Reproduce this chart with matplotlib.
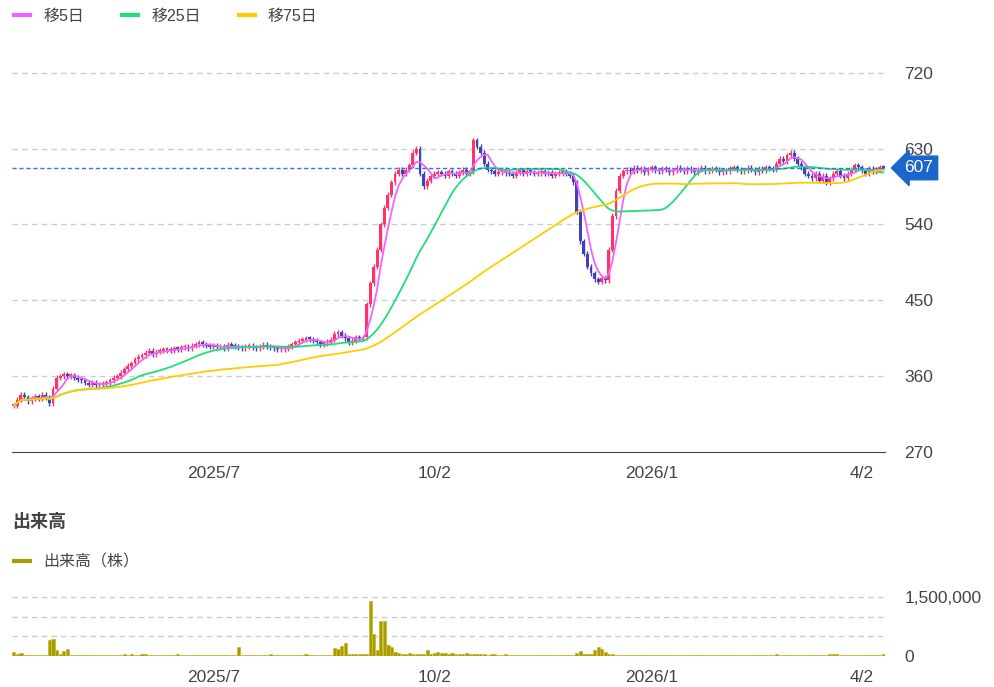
import numpy as np
import pandas as pd
import matplotlib
matplotlib.use("Agg")
from matplotlib import pyplot as plt
from matplotlib.lines import Line2D

plt.rcParams['font.family'] = ['Liberation Sans', 'Noto Sans CJK JP', 'DejaVu Sans']

# daily closes
closes = [
    325, 332, 338, 335, 330, 334, 336, 333, 338, 335, 328,
    345, 358, 360,
    362, 360, 361, 358, 356, 355, 352, 350, 352, 349, 350, 351, 353, 355,
    358, 360, 364, 368, 372, 375, 380, 383, 385, 388, 390, 386, 389, 390,
    391, 392, 390, 393, 392, 394, 395, 393, 396, 398, 400, 398, 396, 395,
    396, 394, 395, 393, 397, 396, 395, 394, 393, 395, 396, 394, 393, 395, 397,
    395, 394, 393, 392, 392, 393, 395, 398, 400, 402,
    403, 405, 404, 402, 400, 398, 399, 401, 403, 410, 412, 408, 405, 400, 402, 406, 405, 406,
    445, 470, 490, 510, 540, 560, 575, 590, 600, 605,
    600, 605, 610, 625, 630, 600, 585,
    592, 598, 600, 602, 600, 598, 603, 600, 598, 602, 605, 600, 603,
    640, 632, 625, 612,
    605, 603, 600, 602, 605, 601, 600, 598, 602, 604, 600, 603, 602, 600, 601, 603,
    600, 602, 598, 600, 601, 603, 600, 598,
    590, 555, 520, 505, 490, 482, 475, 472, 476, 474,
    510, 550, 580, 598, 603,
    605, 603, 607, 604, 606, 602, 605, 608, 604, 603, 606, 605, 602, 604, 607, 605,
    603, 606, 604, 602, 605, 607, 603, 604, 606, 605, 602, 604, 603, 606, 608, 605,
    603, 604, 607, 605, 602, 606, 604, 608, 606, 605,
    612, 618, 615, 622, 625, 618, 612, 608, 600,
    598, 595, 600, 592, 598, 590, 595, 600, 603, 598, 595, 600, 605, 610, 608, 604,
    600, 606, 603, 605, 608, 607,
]

volume = [
    100000, 40000, 80000, 30000, 25000, 30000, 20000, 25000, 20000, 30000,
    400000, 430000, 150000, 60000, 120000, 170000, 30000, 25000, 20000, 25000,
    20000, 22000, 20000, 25000, 20000, 30000, 25000, 20000, 30000, 25000,
    35000, 45000, 30000, 40000, 35000, 30000, 45000, 40000, 30000, 35000,
    30000, 25000, 35000, 30000, 25000, 30000, 40000, 30000, 25000, 30000,
    35000, 30000, 25000, 30000, 35000, 30000, 25000, 20000, 30000, 25000,
    30000, 25000, 30000, 220000, 30000, 25000, 30000, 25000, 35000, 30000,
    25000, 30000, 40000, 35000, 30000, 25000, 30000, 35000, 30000, 25000,
    30000, 35000, 40000, 30000, 35000, 25000, 30000, 35000, 30000, 25000,
    200000, 180000, 250000, 330000, 60000, 50000, 40000, 45000, 40000, 40000,
    1400000, 550000, 150000, 900000, 900000, 280000, 220000, 100000, 80000, 60000,
    50000, 70000, 50000, 40000, 60000, 40000, 150000, 60000, 80000, 90000,
    80000, 70000, 50000, 80000, 60000, 40000, 50000, 70000, 40000, 50000,
    60000, 40000, 50000, 35000, 40000, 45000, 35000, 30000, 40000, 35000,
    30000, 35000, 30000, 25000, 35000, 30000, 25000, 30000, 25000, 30000,
    25000, 30000, 25000, 20000, 25000, 30000, 25000, 30000, 80000, 120000,
    60000, 40000, 50000, 150000, 220000, 180000, 100000, 60000, 40000, 35000,
    30000, 25000, 30000, 35000, 30000, 25000, 30000, 25000, 20000, 25000,
    30000, 25000, 20000, 25000, 30000, 20000, 25000, 20000, 25000, 20000,
    25000, 20000, 25000, 30000, 25000, 20000, 25000, 20000, 25000, 20000,
    25000, 20000, 30000, 25000, 20000, 25000, 20000, 25000, 30000, 25000,
    20000, 25000, 30000, 35000, 40000, 30000, 25000, 30000, 25000, 20000,
    25000, 30000, 25000, 20000, 30000, 25000, 20000, 25000, 30000, 50000,
    55000, 45000, 30000, 25000, 30000, 20000, 25000, 20000, 30000, 25000,
    30000, 25000, 20000, 35000, 60000,
]

tick_pos = [56, 118, 179, 238]
tick_labels = ['2025/7', '10/2', '2026/1', '4/2']
price_ticks = [270, 360, 450, 540, 630, 720]
last_price = 607

n = len(closes)
days = np.arange(n)
s = pd.Series(closes, dtype=float)
opens = s.shift(1).fillna(s.iloc[0]).values
c = s.values
ma5 = s.rolling(5, min_periods=1).mean()
ma25 = s.rolling(25, min_periods=1).mean()
ma75 = s.rolling(75, min_periods=1).mean()

up_col = '#ff3366'
dn_col = '#4040b8'
txt = '#444444'

fig = plt.figure(figsize=(9.94, 6.87), dpi=100)
ax = fig.add_axes([12/994, 1-452/687, 873/994, (452-55)/687])
axv = fig.add_axes([12/994, 1-656/687, 873/994, (656-590)/687])

for a in (ax, axv):
    a.set_xlim(-0.5, n - 0.5)
    for sp in ['top', 'right', 'left']:
        a.spines[sp].set_visible(False)
    a.spines['bottom'].set_color('#444444')
    a.tick_params(axis='x', length=0, labelsize=12.5, colors=txt, pad=10)
    a.yaxis.tick_right()
    a.tick_params(axis='y', length=0, labelsize=12.5, colors=txt, pad=14)
    a.set_xticks(tick_pos)
    a.set_xticklabels(tick_labels)

# candles
hi = np.maximum(opens, c)
lo = np.minimum(opens, c)
cols = [up_col if c[i] >= opens[i] else dn_col for i in range(n)]
ax.vlines(days, lo - 3, hi + 3, colors=cols, lw=1)
ax.bar(days, np.maximum(hi - lo, 2), bottom=lo, width=0.8, color=cols)

ax.plot(days, ma5, color='#ee66ff', lw=1.3)
ax.plot(days, ma25, color='#22dd77', lw=1.3)
ax.plot(days, ma75, color='#ffcc00', lw=1.3)

ax.set_ylim(270, 741)
ax.set_yticks(price_ticks)
for t in price_ticks[1:]:
    ax.axhline(t, color='#cccccc', ls=(0, (4, 3)), lw=1, zorder=0)
ax.axhline(last_price, color='#3377dd', ls=(0, (3, 2)), lw=1)
ax.annotate(str(last_price), xy=(1.0, last_price), xycoords=('axes fraction', 'data'),
            xytext=(14, 0), textcoords='offset points', va='center', ha='left',
            color='white', fontsize=12.5,
            bbox=dict(boxstyle='larrow,pad=0.25', fc='#1a66cc', ec='#1a66cc'))

axv.bar(days, volume, width=0.9, color='#a89c00', edgecolor='#c8bc30', lw=0.6)
axv.set_ylim(0, 1680000)
axv.set_yticks([0, 1500000])
axv.set_yticklabels(['0', '1,500,000'])
for t in [500000, 1000000, 1500000]:
    axv.axhline(t, color='#cccccc', ls=(0, (4, 3)), lw=1, zorder=0)
axv.spines['bottom'].set_visible(False)

handles = [Line2D([], [], color='#ee66ff', lw=3), Line2D([], [], color='#22dd77', lw=3),
           Line2D([], [], color='#ffcc00', lw=3)]
fig.legend(handles, ['移5日', '移25日', '移75日'], loc='upper left', bbox_to_anchor=(0.0, 1.008),
           ncol=3, frameon=False, fontsize=11.5, handlelength=1.0, columnspacing=2.4,
           labelcolor=txt)
fig.text(12/994, 1-522/687, '出来高', fontsize=13, fontweight='bold', color=txt, va='center')
fig.legend([Line2D([], [], color='#a89c00', lw=3)], ['出来高（株）'], loc='upper left',
           bbox_to_anchor=(0.0, 1-540/687), frameon=False, fontsize=11.5, handlelength=1.0,
           labelcolor=txt)

fig.savefig('out.png', dpi=100)
